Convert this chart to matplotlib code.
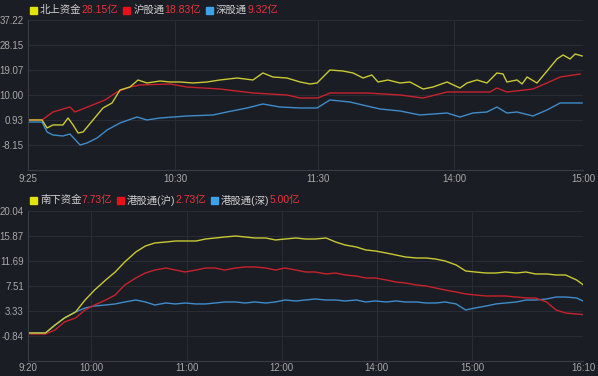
import matplotlib
matplotlib.use('Agg')
import matplotlib.pyplot as plt
from matplotlib.patches import Rectangle

plt.rcParams['font.family'] = ['Liberation Sans', 'Noto Sans CJK SC', 'DejaVu Sans']

# ---------------- data: northbound (top) ----------------
top_xticks = [0, 65, 128, 188, 245]
top_xlabels = ['9:25', '10:30', '11:30', '14:00', '15:00']
top_yticks = [37.22, 28.15, 19.07, 10.00, 0.93, -8.15]
top_ylim = (-17.22, 37.22)

north_t = [0, 6.2, 8.4, 11.0, 15.4, 17.7, 19.9, 22.1, 24.3, 28.7, 33.1, 37.1, 40.6, 45.0, 48.6,
           52.5, 58.3, 62.7, 67.1, 72.8, 79.0, 84.7, 92.3, 99.3, 103.7, 108.1, 114.3, 120.1,
           124.5, 127.6, 133.3, 139.0, 143.5, 147.9, 151.8, 154.5, 158.9, 164.2, 168.6, 174.4,
           178.8, 185.0, 190.7, 193.8, 198.2, 202.6, 207.0, 209.7, 211.4, 215.9, 218.1, 220.3,
           224.7, 226.9, 229.5, 233.5, 236.2, 239.3, 241.5, 244.6]
north_v = [0.93, 0.93, -1.97, -0.88, -0.88, 1.66, -0.88, -3.79, -3.42, 0.93, 5.29, 7.10, 11.82,
           12.90, 15.45, 14.36, 15.08, 14.72, 14.72, 14.36, 14.72, 15.45, 16.17, 15.45, 17.99,
           16.53, 16.17, 14.72, 14.00, 14.36, 19.07, 18.71, 17.99, 16.17, 17.26, 14.72, 15.45,
           14.36, 14.72, 12.18, 12.90, 14.72, 12.54, 14.36, 15.45, 14.36, 17.99, 17.62, 14.72,
           15.45, 14.00, 16.53, 14.36, 16.53, 19.07, 23.07, 24.52, 23.07, 24.88, 24.16]

sh_t = [0, 6.2, 11.0, 18.5, 20.7, 27.4, 34.0, 39.3, 45.0, 49.4, 62.7, 70.2, 84.7, 99.3, 114.3,
        120.1, 128.0, 133.3, 149.6, 164.2, 174.4, 185.0, 193.8, 203.9, 207.0, 211.4, 222.9,
        229.1, 234.9, 243.7]
sh_v = [0.93, 0.93, 3.83, 5.65, 3.83, 6.01, 8.19, 11.09, 12.90, 13.63, 14.00, 12.90, 12.18,
        10.73, 10.00, 8.91, 8.91, 10.73, 10.73, 10.00, 8.91, 11.09, 11.09, 11.09, 12.54, 11.09,
        12.18, 14.36, 16.53, 17.62]

sz_t = [0, 6.2, 8.4, 11.0, 15.4, 18.5, 23.0, 26.0, 30.5, 34.9, 40.6, 48.1, 52.5, 58.3, 70.2,
        81.7, 87.8, 96.7, 103.7, 111.2, 120.1, 127.6, 133.3, 142.1, 149.6, 155.4, 164.2,
        173.0, 185.0, 190.7, 196.4, 202.6, 207.0, 211.4, 215.9, 222.9, 229.1, 234.9, 240.6, 244.6]
sz_v = [0.20, 0.20, -3.42, -4.51, -4.88, -4.15, -8.15, -7.42, -5.60, -2.70, -0.16, 2.02, 0.93,
        1.66, 2.38, 2.75, 3.83, 5.29, 6.74, 5.65, 5.29, 5.29, 8.19, 7.46, 6.01, 4.92, 4.20,
        2.75, 3.47, 2.02, 3.47, 3.83, 5.65, 3.47, 3.83, 2.38, 4.56, 7.10, 7.10, 7.10]

# ---------------- data: southbound (bottom) ----------------
bot_xticks = [0, 40, 100, 160, 220, 280, 350]
bot_xlabels = ['9:20', '10:00', '11:00', '12:00', '14:00', '15:00', '16:10']
bot_yticks = [20.04, 15.87, 11.69, 7.51, 3.33, -0.84]
bot_ylim = (-5.02, 20.04)

south_t = [0, 11, 17, 23, 30, 36, 42, 49, 55, 61, 68, 74, 80, 87, 93, 99, 106, 112, 118, 124,
           131, 137, 143, 150, 156, 162, 169, 175, 181, 188, 194, 200, 207, 213, 219, 226, 232,
           238, 245, 251, 257, 263, 270, 276, 282, 289, 295, 301, 308, 314, 320, 327, 333, 339,
           346, 350]
south_v = [-0.34, -0.34, 0.98, 2.17, 3.17, 5.17, 6.84, 8.51, 9.85, 11.52, 13.19, 14.19, 14.70,
           14.86, 15.03, 15.03, 15.03, 15.36, 15.53, 15.70, 15.86, 15.70, 15.53, 15.53, 15.20,
           15.36, 15.53, 15.36, 15.36, 15.53, 14.86, 14.36, 14.03, 13.53, 13.36, 13.02, 12.69,
           12.36, 12.19, 12.19, 12.02, 11.69, 11.02, 10.02, 9.85, 9.68, 9.68, 9.85, 9.68, 9.85,
           9.52, 9.52, 9.35, 9.35, 8.51, 7.73]
hksh_v = [-0.51, -0.51, 0.16, 1.50, 2.17, 3.50, 4.34, 5.17, 6.01, 7.68, 8.85, 9.68, 10.18,
          10.52, 10.18, 9.85, 10.18, 10.52, 10.52, 10.18, 10.52, 10.69, 10.69, 10.52, 10.18,
          10.52, 10.18, 9.85, 9.85, 9.52, 9.68, 9.35, 9.18, 8.85, 8.85, 8.51, 8.18, 8.01, 7.68,
          7.51, 7.18, 6.84, 6.51, 6.18, 6.01, 5.84, 5.84, 5.84, 5.67, 5.51, 5.51, 4.84, 3.50,
          3.00, 2.83, 2.73]
hksz_v = [-0.34, -0.34, 0.98, 2.17, 3.17, 3.84, 4.17, 4.34, 4.51, 4.84, 5.17, 4.84, 4.34, 4.67,
          4.51, 4.67, 4.51, 4.51, 4.67, 4.84, 4.84, 4.67, 4.84, 4.67, 4.84, 5.17, 5.01, 5.17,
          5.34, 5.17, 5.17, 5.01, 5.17, 4.84, 5.01, 4.84, 5.01, 4.84, 4.84, 4.67, 4.67, 4.84,
          4.51, 3.50, 3.84, 4.17, 4.51, 4.67, 4.84, 5.17, 5.17, 5.34, 5.67, 5.67, 5.51, 5.00]

top_legend = [('北上资金', '28.15亿'), ('沪股通', '18.83亿'), ('深股通', '9.32亿')]
bot_legend = [('南下资金', '7.73亿'), ('港股通(沪)', '2.73亿'), ('港股通(深)', '5.00亿')]

# ---------------- style ----------------
BG = '#1b1d24'
GRID = '#292c34'
SPINE = '#3a3d46'
TXT = '#a8a8a8'
LINE_COLORS = ['#c9c934', '#c8222c', '#3f8ccb']
BOX_COLORS = ['#e3e30a', '#e8101a', '#39a3ee']
VAL_COLOR = '#e8333c'

W, H = 598, 376
fig = plt.figure(figsize=(W / 100, H / 100), dpi=100, facecolor=BG)


def rect(l, t, r, b):
    return [l / W, 1 - b / H, (r - l) / W, (b - t) / H]


def style(ax, xticks, xlabels, yticks, ylim, xmax, xpad):
    ax.set_facecolor(BG)
    ax.set_xlim(0, xmax)
    ax.set_ylim(*ylim)
    ax.set_xticks(xticks)
    ax.set_xticklabels(xlabels)
    ax.set_yticks(yticks)
    ax.set_yticklabels(['%.2f' % v for v in yticks])
    ax.grid(True, color=GRID, lw=0.8)
    ax.set_axisbelow(True)
    for s in ['top', 'right']:
        ax.spines[s].set_visible(False)
    for s in ['left', 'bottom']:
        ax.spines[s].set_color(SPINE)
        ax.spines[s].set_linewidth(0.8)
    ax.tick_params(length=0, labelsize=7, colors=TXT, pad=3)
    ax.tick_params(axis='x', pad=xpad)


ax1 = fig.add_axes(rect(28, 20, 583, 170))
ax2 = fig.add_axes(rect(28, 211, 583, 361))
style(ax1, top_xticks, top_xlabels, top_yticks, top_ylim, 245, 3)
style(ax2, bot_xticks, bot_xlabels, bot_yticks, bot_ylim, 350, 1.5)

ax1.plot(sz_t, sz_v, color=LINE_COLORS[2], lw=1.0)
ax1.plot(sh_t, sh_v, color=LINE_COLORS[1], lw=1.0)
ax1.plot(north_t, north_v, color=LINE_COLORS[0], lw=1.0)

ax2.plot(south_t, hksz_v, color=LINE_COLORS[2], lw=1.0)
ax2.plot(south_t, hksh_v, color=LINE_COLORS[1], lw=1.0)
ax2.plot(south_t, south_v, color=LINE_COLORS[0], lw=1.0)

renderer = fig.canvas.get_renderer()


def legend(x_px, y_px, items):
    x = x_px
    for (name, val), box in zip(items, BOX_COLORS):
        fig.patches.append(Rectangle(((x) / W, 1 - (y_px + 4) / H), 7 / W, 7 / H,
                                     transform=fig.transFigure, color=box, figure=fig))
        x += 10
        for s, c in [(name, '#d0d0d0'), (val, VAL_COLOR)]:
            t = fig.text(x / W, 1 - y_px / H, s, color=c, fontsize=7.5, va='center', ha='left')
            bb = t.get_window_extent(renderer)
            x += bb.width
        x += 5


legend(30, 10, top_legend)
legend(30, 200, bot_legend)

fig.savefig('out.png', dpi=100, facecolor=BG)
